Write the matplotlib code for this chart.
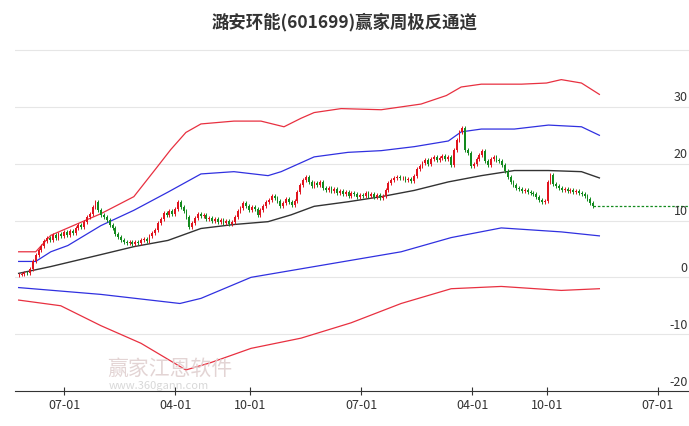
import matplotlib
matplotlib.use("Agg")
import matplotlib.pyplot as plt
import matplotlib.dates as mdates
import numpy as np
import datetime as dt

plt.rcParams['font.family'] = ['Noto Sans CJK SC', 'DejaVu Sans']

title = "潞安环能(601699)赢家周极反通道"
start = dt.date(2022, 3, 11)

closes = [0.5,0.6,0.8,0.7,1.5,2.8,3.9,4.8,5.6,6.4,
          6.9,6.5,7.4,7.0,7.6,7.2,8.0,7.4,8.2,7.8,
          8.6,9.2,8.8,9.8,10.6,11.2,12.4,13.2,11.8,11.0,
          10.6,10.1,9.2,8.6,7.6,7.1,6.6,6.3,6.0,6.2,
          5.9,6.3,6.1,6.5,6.8,6.4,7.2,7.8,8.4,9.6,
          10.2,11.4,11.0,11.6,11.2,12.0,13.2,12.4,11.6,10.6,
          8.8,9.6,10.4,11.2,10.8,11.0,10.2,10.5,9.9,10.2,
          9.8,10.1,9.6,9.9,9.4,9.8,10.6,11.6,12.2,13.0,
          12.6,11.8,12.4,12.0,11.0,11.8,12.6,13.2,13.6,14.4,
          14.0,13.4,12.6,13.0,13.8,13.2,12.8,13.4,15.0,16.2,
          17.2,17.6,16.8,16.0,16.6,16.2,16.8,15.8,15.4,15.8,
          15.2,15.6,14.8,15.2,14.6,15.0,14.4,14.9,14.6,14.2,
          14.5,14.3,14.8,14.4,14.6,14.2,14.5,14.0,14.3,15.4,
          16.6,17.2,17.4,17.6,17.4,17.5,17.2,17.3,17.0,17.8,
          19.0,19.6,20.2,20.6,20.0,20.8,21.2,20.6,21.0,21.4,
          20.8,21.2,19.8,22.4,24.2,25.6,26.2,22.4,21.8,19.6,
          19.9,20.8,21.6,22.2,20.4,19.8,20.8,21.2,20.6,20.4,
          19.8,18.8,17.6,16.8,16.2,15.8,15.6,15.2,15.4,15.0,
          14.8,14.6,14.2,13.6,13.2,13.4,16.8,18.0,16.4,16.0,
          15.8,15.4,15.6,15.2,15.3,15.0,15.2,14.8,14.6,14.4,
          13.8,13.0,12.6]
first_open = 0.4

mid_w = [0,11.3,28.9,40.5,52.5,64.1,75.7,87.7,95.8,103.9,115.8,127.5,139.1,151.1,162.7,174.3,186.3,197.9,204.2]
mid_v = [0.7,1.9,4.0,5.4,6.5,8.6,9.3,9.8,11.0,12.5,13.3,14.2,15.3,16.8,17.9,18.8,18.8,18.6,17.5]

ub_w = [0,6,11.3,17.3,28.9,40.5,52.5,64.1,75.7,87.7,92.3,103.9,115.8,127.5,139.1,151.1,155.6,162.7,174.3,186.3,197.9,204.2]
ub_v = [2.8,2.8,4.5,5.6,9.1,11.8,15.0,18.2,18.6,17.9,18.6,21.2,22.0,22.3,23.0,24.0,25.6,26.1,26.1,26.8,26.5,25.0]

ur_w = [0,6,11.3,28.9,40.5,48.2,53.5,58.8,64.1,75.7,85.2,93.3,99.3,103.9,113.4,127.5,141.5,150.4,155.6,162.7,176.8,185.6,190.8,197.9,204.2]
ur_v = [4.5,4.5,7.4,11.2,14.2,19.1,22.5,25.5,27.0,27.5,27.5,26.5,28.0,29.0,29.7,29.5,30.5,32.0,33.5,34.0,34.0,34.2,34.8,34.2,32.2]

lb_w = [0,28.9,56.7,64.1,81.7,99.3,116.9,134.5,152.1,169.7,190.8,204.2]
lb_v = [-1.8,-3.0,-4.6,-3.7,0.0,1.5,3.0,4.5,7.0,8.7,8.0,7.3]

lr_w = [0,14.8,28.9,43.0,58.8,67.6,81.7,99.3,116.9,134.5,152.1,169.7,190.8,204.2]
lr_v = [-4.0,-5.0,-8.5,-11.6,-16.3,-15.0,-12.5,-10.7,-8.0,-4.6,-2.0,-1.6,-2.3,-2.0]

tick_dates = [dt.date(2022,7,1), dt.date(2023,4,1), dt.date(2023,10,1), dt.date(2024,7,1),
              dt.date(2025,4,1), dt.date(2025,10,1), dt.date(2026,7,1)]
y_labels = [30, 20, 10, 0, -10, -20]

def wdate(w):
    return mdates.date2num(start) + np.asarray(w) * 7.0

fig = plt.figure(figsize=(6.89, 4.27), dpi=100)
ax = fig.add_axes([15/689, 0.082, 1 - 15/689, 0.825])
ax.set_ylim(-20, 42)
ax.set_xlim(mdates.date2num(dt.date(2022,3,2)), mdates.date2num(dt.date(2026,9,16)))

for g in [40, 30, 20, 10, 0, -10]:
    ax.axhline(g, color='#e6e6e6', lw=0.8, zorder=0)

n = len(closes)
xs = wdate(np.arange(n))
opens = [first_open] + closes[:-1]
for x, o, c in zip(xs, opens, closes):
    col = '#e0141e' if c >= o else '#138a1e'
    hi = max(o, c) + 0.35
    lo = min(o, c) - 0.35
    ax.vlines(x, lo, hi, color=col, lw=0.7, zorder=3)
    h = abs(c - o) if abs(c - o) > 0.08 else 0.08
    ax.bar(x, h, bottom=min(o, c), width=4.5, color=col, lw=0, zorder=4)

ax.plot([xs[-1], ax.get_xlim()[1]], [closes[-1], closes[-1]], color='#138a1e', lw=0.9, ls=(0, (2, 1.5)), zorder=2)

ax.plot(wdate(mid_w), mid_v, color='#333333', lw=1.0, zorder=2)
ax.plot(wdate(ub_w), ub_v, color='#3030e0', lw=0.9, zorder=2)
ax.plot(wdate(lb_w), lb_v, color='#3030e0', lw=0.9, zorder=2)
ax.plot(wdate(ur_w), ur_v, color='#e83040', lw=0.9, zorder=2)
ax.plot(wdate(lr_w), lr_v, color='#e83040', lw=0.9, zorder=2)

for s in ['top', 'right', 'left']:
    ax.spines[s].set_visible(False)
ax.spines['bottom'].set_color('#333333')
ax.set_yticks([])
ax.set_xticks([mdates.date2num(d) for d in tick_dates])
ax.set_xticklabels([d.strftime('%m-%d') for d in tick_dates], fontsize=9, color='#333333')
ax.tick_params(axis='x', length=6, direction='inout', color='#333333', pad=2)

for v in y_labels:
    ax.text(0.998, v + 0.6, str(v), transform=ax.get_yaxis_transform(), ha='right', va='bottom',
            fontsize=9, color='#333333')

fig.text(0.5, 0.948, title, ha='center', va='center', fontsize=12.5, fontweight='bold', color='#333333')
fig.text(0.155, 0.135, "赢家江恩软件", fontsize=15, color='#e0d0d0', alpha=0.9, ha='left', va='center')
fig.text(0.158, 0.095, "www.360gann.com", fontsize=8, color='#d8d8d8', ha='left', va='center')

fig.savefig('out.png', dpi=100)
